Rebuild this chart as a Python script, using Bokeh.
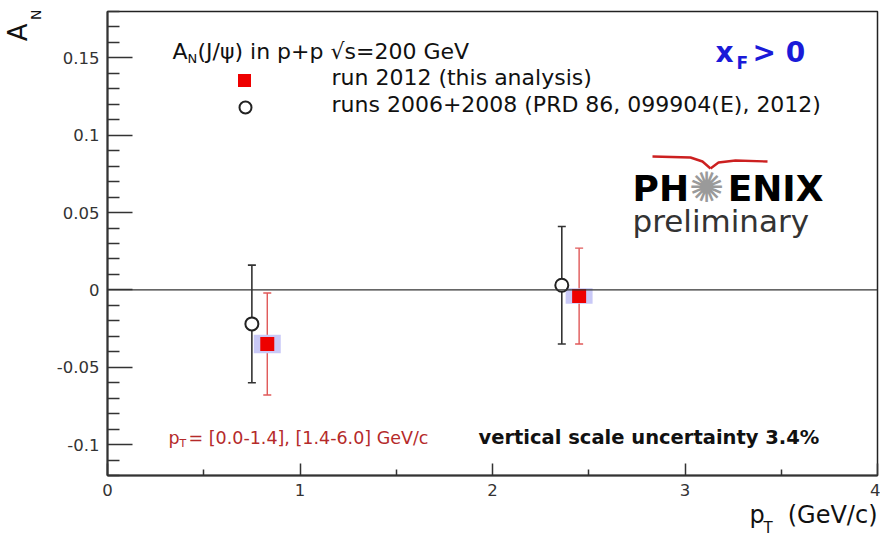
from bokeh.plotting import figure
from bokeh.models import (Range1d, FixedTicker, Label, Span, Whisker, TeeHead,
                          ColumnDataSource, Title)
from bokeh.embed import file_html
from bokeh.resources import INLINE

# ---------------- data ----------------
pt_2012 = [0.83, 2.45]          # run 2012 (this analysis)
an_2012 = [-0.035, -0.004]
stat_2012 = [0.033, 0.031]
syst_2012 = [0.006, 0.005]

pt_old = [0.75, 2.36]           # runs 2006+2008
an_old = [-0.022, 0.003]
stat_old = [0.038, 0.038]

x_ticks = [0, 1, 2, 3, 4]
x_minor = [0.5, 1.5, 2.5, 3.5]
y_ticks = [-0.1, -0.05, 0, 0.05, 0.1, 0.15]
y_tick_labels = ["-0.1", "-0.05", "0", "0.05", "0.1", "0.15"]
y_minor = [-0.12, -0.11, -0.09, -0.08, -0.07, -0.06, -0.04, -0.03, -0.02, -0.01,
           0.01, 0.02, 0.03, 0.04, 0.06, 0.07, 0.08, 0.09, 0.11, 0.12, 0.13, 0.14,
           0.16, 0.17, 0.18]

X0, X1 = 0.0, 4.0
Y0, Y1 = -0.12, 0.18

# frame geometry in screen pixels
FL, FR, FT, FB = 107, 877, 11, 475


def dx(px):
    return X0 + (px - FL) * (X1 - X0) / (FR - FL)


def dy(py):
    return Y1 - (py - FT) * (Y1 - Y0) / (FB - FT)


FONT = "DejaVu Sans"

p = figure(width=880, height=537, x_range=Range1d(X0, X1), y_range=Range1d(Y0, Y1),
           output_backend="svg", toolbar_location=None,
           min_border_left=FL, min_border_right=880 - FR,
           min_border_top=FT, min_border_bottom=537 - FB)
p.grid.visible = False
p.background_fill_color = "white"
p.border_fill_color = "white"
p.outline_line_color = "#222222"
p.outline_line_width = 1.5

# axes
xa = p.xaxis[0]
xa.ticker = FixedTicker(ticks=x_ticks, minor_ticks=x_minor)
xa.major_tick_in = 12
xa.major_tick_out = 0
xa.minor_tick_in = 6
xa.minor_tick_out = 0
xa.axis_line_width = 2
xa.axis_line_color = "#333333"
xa.major_tick_line_color = "#333333"
xa.minor_tick_line_color = "#333333"
xa.major_tick_line_width = 1.5
xa.minor_tick_line_width = 1.5
xa.major_label_text_font = FONT
xa.major_label_text_font_size = "16.5px"
xa.major_label_text_color = "#333333"
xa.major_label_standoff = 8

ya = p.yaxis[0]
ya.ticker = FixedTicker(ticks=y_ticks, minor_ticks=y_minor)
ya.major_label_overrides = dict(zip(y_ticks, y_tick_labels))
ya.major_tick_in = 25
ya.major_tick_out = 0
ya.minor_tick_in = 12
ya.minor_tick_out = 0
ya.axis_line_width = 2
ya.axis_line_color = "#333333"
ya.major_tick_line_color = "#333333"
ya.minor_tick_line_color = "#333333"
ya.major_tick_line_width = 1.5
ya.minor_tick_line_width = 1.5
ya.major_label_text_font = FONT
ya.major_label_text_font_size = "16.5px"
ya.major_label_text_color = "#333333"
ya.major_label_standoff = 8

# axis titles (as side-panel titles so they sit outside the frame)
p.add_layout(Title(text="N", align="right", vertical_align="middle", offset=-2, standoff=18,
                   text_font=FONT, text_font_size="14px", text_color="#111111",
                   text_font_style="normal"), "left")
p.add_layout(Title(text="A", align="right", vertical_align="bottom", offset=12, standoff=-31,
                   text_font=FONT, text_font_size="26px", text_color="#111111",
                   text_font_style="normal"), "left")
p.add_layout(Title(text="p\u00a0\u00a0\u00a0(GeV/c)", align="right", vertical_align="top",
                   offset=0, standoff=4, text_font=FONT, text_font_size="24px",
                   text_color="#111111", text_font_style="normal"), "below")
p.add_layout(Title(text="T", align="left", vertical_align="top", offset=656, standoff=-27,
                   text_font=FONT, text_font_size="15px", text_color="#111111",
                   text_font_style="normal"), "below")

# zero line
p.add_layout(Span(location=0, dimension="width", line_color="#333333", line_width=1.2))

# sources
src_new = ColumnDataSource(dict(
    x=pt_2012, y=an_2012,
    lo=[a - e for a, e in zip(an_2012, stat_2012)],
    hi=[a + e for a, e in zip(an_2012, stat_2012)],
    sh=[2 * s for s in syst_2012]))
src_old = ColumnDataSource(dict(
    x=pt_old, y=an_old,
    lo=[a - e for a, e in zip(an_old, stat_old)],
    hi=[a + e for a, e in zip(an_old, stat_old)]))

# systematic boxes
p.rect(x="x", y="y", width=0.14, height="sh", source=src_new,
       fill_color="#c9c9f7", line_color=None)

# error bars
for src, col, lw in ((src_old, "#333333", 1.6), (src_new, "#e05858", 1.4)):
    p.add_layout(Whisker(base="x", lower="lo", upper="hi", source=src, dimension="height",
                         line_color=col, line_width=lw,
                         upper_head=TeeHead(size=8, line_color=col, line_width=lw),
                         lower_head=TeeHead(size=8, line_color=col, line_width=lw)))

p.scatter(x="x", y="y", source=src_old, marker="circle", size=13,
          fill_color="white", line_color="#222222", line_width=2)
p.scatter(x="x", y="y", source=src_new, marker="square", size=14,
          fill_color="#ee0000", line_color=None)

# legend markers
p.scatter(x=[dx(244)], y=[dy(80)], marker="square", size=13, fill_color="#ee0000", line_color=None)
p.scatter(x=[dx(245)], y=[dy(107)], marker="circle", size=12, fill_color="white",
          line_color="#222222", line_width=2)


def lab(px, py, text, size, color="#111111", style="normal", align="left",
        baseline="middle", font=FONT):
    p.add_layout(Label(x=dx(px), y=dy(py), text=text, text_font=font,
                       text_font_size=f"{size}px", text_color=color,
                       text_font_style=style, text_align=align,
                       text_baseline=baseline))


# legend header and entries
lab(172, 51, "A", 22)
lab(187, 58, "N", 13)
lab(197, 51, "(J/ψ) in p+p √s=200 GeV", 22)
lab(331, 77, "run 2012 (this analysis)", 22)
lab(331, 104, "runs 2006+2008 (PRD 86, 099904(E), 2012)", 22)

# x_F > 0
BLUE = "#1a1ad8"
lab(715, 52, "x", 28, color=BLUE, style="bold")
lab(736, 62, "F", 17, color=BLUE, style="bold")
lab(752, 52, "> 0", 28, color=BLUE, style="bold")

# PHENIX preliminary logo
lab(632, 188, "PH", 36, color="#000000", style="bold")
lab(823, 188, "ENIX", 36, color="#000000", style="bold", align="right")
lab(706, 187, "✺", 42, color="#9a9a9a", align="center")
lab(632, 220, "preliminary", 31, color="#333333")
wing_lx = [dx(652), dx(690), dx(702), dx(710)]
wing_ly = [dy(156), dy(157), dy(161), dy(168)]
wing_rx = [dx(710), dx(718), dx(735), dx(767)]
wing_ry = [dy(168), dy(162), dy(160), dy(161)]
p.line(wing_lx, wing_ly, line_color="#cc2020", line_width=2.4)
p.line(wing_rx, wing_ry, line_color="#cc2020", line_width=2.4)

# bottom annotations
RED = "#b52a2a"
lab(168, 437, "p", 17.5, color=RED)
lab(179, 443, "T", 11, color=RED)
lab(188, 437, " = [0.0-1.4], [1.4-6.0] GeV/c", 17.5, color=RED)
lab(478, 437, "vertical scale uncertainty 3.4%", 19.5, color="#111111", style="bold")

open("out.html", "w").write(file_html(p, INLINE))
